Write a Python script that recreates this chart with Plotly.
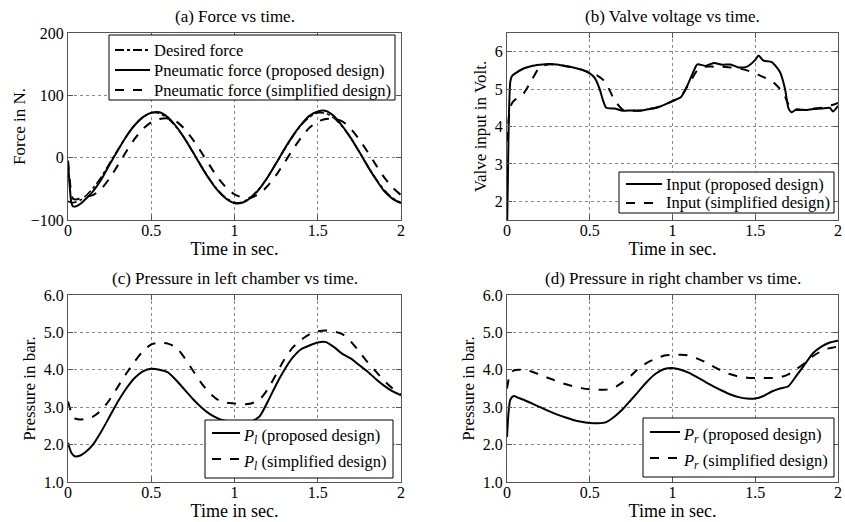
import plotly.graph_objects as go

# ---------------- data ----------------
# (a) Force vs time
T_F = [0, 0.01, 0.02, 0.03, 0.05, 0.075, 0.1,
       0.15, 0.2, 0.25, 0.3, 0.35, 0.4, 0.45, 0.5,
       0.55, 0.6, 0.65, 0.7, 0.75, 0.8, 0.85, 0.9, 0.95, 1.0,
       1.05, 1.1, 1.15, 1.2, 1.25, 1.3, 1.35, 1.4, 1.45, 1.5,
       1.55, 1.6, 1.65, 1.7, 1.75, 1.8, 1.85, 1.9, 1.95, 2.0]
F_desired = [-70, -71, -72, -72, -71, -68, -63,
             -49, -31, -9, 13, 34, 52, 65, 72,
             71, 63, 49, 31, 9, -13, -34, -52, -65, -72,
             -71, -63, -49, -31, -9, 13, 34, 52, 65, 72,
             71, 63, 49, 31, 9, -13, -34, -52, -65, -72]
F_proposed = [-5, -45, -72, -78, -78, -74, -68,
              -54, -35, -11, 12, 34, 52, 65, 72,
              73, 65, 50, 31, 9, -14, -35, -53, -66, -73,
              -72, -64, -50, -31, -9, 14, 35, 53, 67, 74,
              75, 66, 50, 31, 9, -14, -35, -54, -66, -73]
F_simplified = [-5, -35, -58, -66, -67, -65, -63,
                -60, -50, -33, -12, 10, 30, 46, 57,
                62, 63, 58, 46, 29, 9, -12, -32, -48, -59,
                -64, -64, -58, -45, -28, -8, 13, 32, 48, 58,
                62, 62, 58, 46, 29, 9, -12, -32, -48, -60]

# (b) Valve voltage vs time
T_V = [0, 0.005, 0.01, 0.02, 0.03, 0.05,
       0.1, 0.15, 0.2, 0.25, 0.3, 0.35, 0.4, 0.45, 0.5,
       0.53, 0.56, 0.58, 0.6,
       0.65, 0.7, 0.75, 0.8, 0.85, 0.9, 0.95, 1.0, 1.05,
       1.08, 1.12, 1.15,
       1.2, 1.25, 1.3, 1.35, 1.4, 1.45, 1.5,
       1.52, 1.55, 1.6, 1.65, 1.68, 1.7, 1.72, 1.75,
       1.8, 1.85, 1.9, 1.95, 1.97, 2.0]
V_proposed = [1.2, 2.5, 4.0, 5.2, 5.35, 5.42,
              5.55, 5.62, 5.65, 5.67, 5.66, 5.62, 5.58, 5.52, 5.42,
              5.3, 5.0, 4.7, 4.5,
              4.48, 4.42, 4.43, 4.42, 4.46, 4.5, 4.58, 4.68, 4.78,
              5.0, 5.4, 5.66,
              5.62, 5.7, 5.65, 5.66, 5.58, 5.6, 5.78,
              5.9, 5.76, 5.72, 5.45, 5.0, 4.5, 4.38, 4.46,
              4.44, 4.47, 4.48, 4.5, 4.4, 4.55]
V_simplified = [3.6, 3.9, 4.2, 4.5, 4.62, 4.72,
                4.88, 5.25, 5.6, 5.66, 5.65, 5.62, 5.58, 5.52, 5.45,
                5.4, 5.32, 5.25, 5.15,
                4.7, 4.45, 4.42, 4.43, 4.46, 4.5, 4.58, 4.68, 4.8,
                5.0, 5.3, 5.5,
                5.6, 5.6, 5.6, 5.58, 5.55, 5.5, 5.42,
                5.38, 5.32, 5.22, 5.0, 4.8, 4.6, 4.48, 4.44,
                4.45, 4.48, 4.5, 4.56, 4.58, 4.63]

# (c), (d) Chamber pressures vs time
T_P = [0, 0.01, 0.02, 0.04, 0.07, 0.1,
       0.15, 0.2, 0.25, 0.3, 0.35, 0.4, 0.45, 0.5,
       0.55, 0.6, 0.65, 0.7, 0.75, 0.8, 0.85, 0.9, 0.95, 1.0,
       1.05, 1.1, 1.15, 1.2, 1.25, 1.3, 1.35, 1.4, 1.45, 1.5,
       1.55, 1.6, 1.65, 1.7, 1.75, 1.8, 1.85, 1.9, 1.95, 2.0]
Pl_proposed = [2.05, 1.9, 1.78, 1.69, 1.7, 1.78,
               2.0, 2.35, 2.75, 3.15, 3.5, 3.78, 3.96, 4.03,
               4.0, 3.93, 3.72, 3.47, 3.22, 3.0, 2.82, 2.7, 2.63, 2.6,
               2.6, 2.62, 2.75, 3.15, 3.6, 4.0, 4.33, 4.55, 4.65, 4.73,
               4.74, 4.6, 4.42, 4.3, 4.12, 3.95, 3.75, 3.57, 3.42, 3.32]
Pl_simplified = [3.15, 3.0, 2.85, 2.7, 2.67, 2.68,
                 2.75, 2.92, 3.2, 3.55, 3.9, 4.22, 4.5, 4.68,
                 4.73, 4.7, 4.6, 4.32, 3.98, 3.65, 3.38, 3.2, 3.12, 3.1,
                 3.08, 3.1, 3.2, 3.48, 3.88, 4.28, 4.6, 4.8, 4.95, 5.03,
                 5.05, 5.02, 4.95, 4.75, 4.48, 4.2, 3.95, 3.7, 3.5, 3.33]
Pr_proposed = [2.2, 2.9, 3.2, 3.3, 3.25, 3.2,
               3.1, 3.0, 2.9, 2.81, 2.73, 2.66, 2.61, 2.58,
               2.57, 2.6, 2.75, 2.95, 3.2, 3.45, 3.7, 3.9, 4.02, 4.05,
               4.0, 3.92, 3.8, 3.67, 3.55, 3.44, 3.34, 3.27, 3.23, 3.23,
               3.3, 3.42, 3.5, 3.56, 3.85, 4.15, 4.45, 4.62, 4.73, 4.78]
Pr_simplified = [3.5, 3.75, 3.9, 3.98, 4.0, 4.0,
                 3.95, 3.87, 3.78, 3.7, 3.62, 3.56, 3.51, 3.48,
                 3.47, 3.47, 3.53, 3.67, 3.85, 4.05, 4.2, 4.3, 4.38, 4.4,
                 4.4, 4.38, 4.3, 4.2, 4.08, 3.97, 3.88, 3.82, 3.79, 3.78,
                 3.78, 3.78, 3.8, 3.88, 4.02, 4.18, 4.37, 4.5, 4.58, 4.62]

X_TICKS = [0, 0.5, 1, 1.5, 2]
X_TICK_LABELS = ["0", "0.5", "1", "1.5", "2"]
F_TICKS = [-100, 0, 100, 200]
V_TICKS = [2, 3, 4, 5, 6]
P_TICKS = [1, 2, 3, 4, 5, 6]
P_TICK_LABELS = ["1.0", "2.0", "3.0", "4.0", "5.0", "6.0"]

TITLES = ["(a) Force vs time.", "(b) Valve voltage vs time.",
          "(c) Pressure in left chamber vs time.", "(d) Pressure in right chamber vs time."]
Y_TITLES = ["Force in N.", "Valve input in Volt.", "Pressure in bar.", "Pressure in bar."]

NAMES_A = ["Desired force", "Pneumatic force (proposed design)", "Pneumatic force (simplified design)"]
NAMES_B = ["Input (proposed design)", "Input (simplified design)"]
NAMES_C = ["<i>P</i><sub><i>l</i></sub> (proposed design)", "<i>P</i><sub><i>l</i></sub> (simplified design)"]
NAMES_D = ["<i>P</i><sub><i>r</i></sub> (proposed design)", "<i>P</i><sub><i>r</i></sub> (simplified design)"]

# ---------------- figure ----------------
W, H = 845, 522
FONT = "'Liberation Serif', 'Times New Roman', 'DejaVu Serif', serif"

def px_x(p):
    return p / W

def px_y(p):
    return 1 - p / H

# plot areas in pixels: (left, right, top, bottom)
AREAS = [(68, 401, 33, 220), (507, 838, 33, 220),
         (68, 401, 295, 482), (507, 838, 295, 482)]
Y_STANDOFF = [0, 3, 3, 3]

fig = go.Figure()

def line(x, y, dash, name, ax, width=2):
    xa = "x" if ax == 1 else f"x{ax}"
    ya = "y" if ax == 1 else f"y{ax}"
    fig.add_trace(go.Scatter(
        x=x, y=y, mode="lines", name=name, xaxis=xa, yaxis=ya, showlegend=False,
        line=dict(color="black", width=width, dash=dash, shape="spline", smoothing=0.6),
        hoverinfo="skip"))

line(T_F, F_desired, "dashdot", NAMES_A[0], 1, 1.6)
line(T_F, F_proposed, "solid", NAMES_A[1], 1)
line(T_F, F_simplified, "dash", NAMES_A[2], 1)
line(T_V, V_proposed, "solid", NAMES_B[0], 2)
line(T_V, V_simplified, "dash", NAMES_B[1], 2)
line(T_P, Pl_proposed, "solid", NAMES_C[0], 3)
line(T_P, Pl_simplified, "dash", NAMES_C[1], 3)
line(T_P, Pr_proposed, "solid", NAMES_D[0], 4)
line(T_P, Pr_simplified, "dash", NAMES_D[1], 4)

axis_common = dict(
    showline=True, linecolor="#555", linewidth=1, mirror="ticks",
    ticks="inside", ticklen=5, tickcolor="#555",
    showgrid=True, gridcolor="#888", gridwidth=1, griddash="dot",
    zeroline=False, ticklabeloverflow="allow",
    tickfont=dict(family=FONT, size=16, color="black"),
)

y_specs = [
    dict(range=[-100, 200], tickvals=F_TICKS),
    dict(range=[1.5, 6.5], tickvals=V_TICKS),
    dict(range=[1, 6], tickvals=P_TICKS, ticktext=P_TICK_LABELS),
    dict(range=[1, 6], tickvals=P_TICKS, ticktext=P_TICK_LABELS),
]

layout = {}
for i, (l, r, t, b) in enumerate(AREAS):
    k = "" if i == 0 else str(i + 1)
    layout[f"xaxis{k}"] = dict(
        axis_common, domain=[px_x(l), px_x(r)], range=[0, 2],
        tickvals=X_TICKS, ticktext=X_TICK_LABELS,
        anchor=f"y{k}", ticklabelstandoff=-4,
        title=dict(text="Time in sec.", font=dict(family=FONT, size=18, color="black"), standoff=0),
    )
    ys = y_specs[i]
    yd = dict(axis_common, domain=[px_y(b), px_y(t)], range=ys["range"],
              tickvals=ys["tickvals"], anchor=f"x{k}",
              title=dict(text=Y_TITLES[i], font=dict(family=FONT, size=17, color="black"),
                         standoff=Y_STANDOFF[i]))
    if "ticktext" in ys:
        yd["ticktext"] = ys["ticktext"]
    layout[f"yaxis{k}"] = yd

annotations = []
shapes = []
for i, (l, r, t, b) in enumerate(AREAS):
    annotations.append(dict(
        text=TITLES[i], xref="paper", yref="paper",
        x=px_x((l + r) / 2), y=px_y(t - 17), xanchor="center", yanchor="middle",
        showarrow=False, font=dict(family=FONT, size=17, color="black")))

# legend boxes (pixel layout): box (left, top, right, bottom), key x-range, text x, row centres
LEGENDS = [
    dict(box=(109, 35, 395, 100), key=(115, 150), tx=152, rows=(50, 70, 90),
         names=NAMES_A, dashes=("dashdot", "solid", "dash")),
    dict(box=(619, 172, 834, 213), key=(626, 662), tx=664, rows=(184, 203),
         names=NAMES_B, dashes=("solid", "dash")),
    dict(box=(205, 420, 393, 478), key=(212, 240), tx=241, rows=(433, 459),
         names=NAMES_C, dashes=("solid", "dash")),
    dict(box=(643, 418, 834, 477), key=(650, 680), tx=681, rows=(432, 458),
         names=NAMES_D, dashes=("solid", "dash")),
]
for lg in LEGENDS:
    x0, y0, x1, y1 = lg["box"]
    shapes.append(dict(type="rect", xref="paper", yref="paper",
                       x0=px_x(x0), x1=px_x(x1), y0=px_y(y1), y1=px_y(y0),
                       fillcolor="white", line=dict(color="black", width=1), layer="above"))
    for name, dash, ry in zip(lg["names"], lg["dashes"], lg["rows"]):
        shapes.append(dict(type="line", xref="paper", yref="paper",
                           x0=px_x(lg["key"][0]), x1=px_x(lg["key"][1]),
                           y0=px_y(ry), y1=px_y(ry),
                           line=dict(color="black", width=2, dash=dash), layer="above"))
        sub = "<sub>" in name
        annotations.append(dict(
            text=name, xref="paper", yref="paper",
            x=px_x(lg["tx"]), y=px_y(ry + (3 if sub else 0)), xanchor="left", yanchor="middle",
            showarrow=False, font=dict(family=FONT, size=16.5, color="black")))

fig.update_layout(
    width=W, height=H,
    margin=dict(l=0, r=0, t=0, b=0, autoexpand=False),
    paper_bgcolor="white", plot_bgcolor="white",
    font=dict(family=FONT, color="black"),
    showlegend=False,
    annotations=annotations,
    shapes=shapes,
    **layout,
)

fig.write_html("out.html", config={"displayModeBar": False},
               post_script="document.body.style.margin='0px';document.body.style.overflow='hidden';")
